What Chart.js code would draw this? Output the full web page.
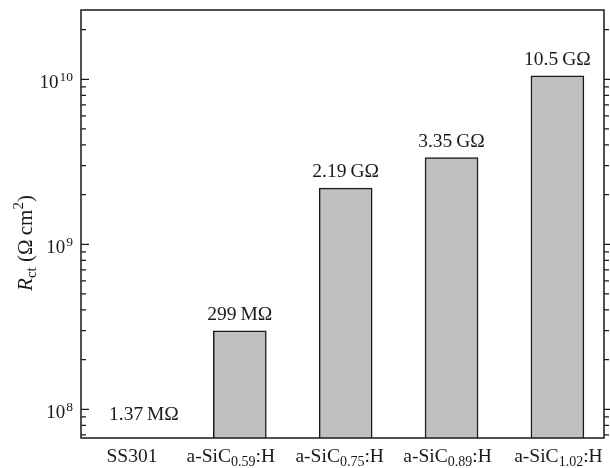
<!DOCTYPE html>
<html>
<head>
<meta charset="utf-8">
<script src="https://cdn.jsdelivr.net/npm/chart.js@4/dist/chart.umd.min.js"></script>
<style>
  html, body { margin: 0; padding: 0; background: #ffffff; }
  #wrap { width: 610px; height: 468px; }
</style>
</head>
<body>
<div id="wrap"><canvas id="c" width="610" height="468"></canvas></div>
<script>
// ---- data ----
const categories = ['SS301', 'a-SiC_0.59:H', 'a-SiC_0.75:H', 'a-SiC_0.89:H', 'a-SiC_1.02:H'];
const rctValues = [1.37e6, 2.99e8, 2.19e9, 3.35e9, 1.05e10];   // Ω cm²
const valueLabels = ['1.37\u2009M\u03A9', '299\u2009M\u03A9', '2.19\u2009G\u03A9', '3.35\u2009G\u03A9', '10.5\u2009G\u03A9'];
const yTickExponents = [8, 9, 10];
const yMin = 6.7e7;
const yMax = 2.63e10;

// ---- style ----
const FONT = '"Liberation Serif", "DejaVu Serif", serif';
const INK = '#1a1a1a';
const xLabelNudge = [-2, -9, -6, -4, 1];

function drawRich(ctx, parts, x, y, align) {
  let total = 0;
  for (const p of parts) {
    ctx.font = (p.italic ? 'italic ' : '') + p.size + 'px ' + FONT;
    p.w = ctx.measureText(p.t).width;
    total += p.w;
  }
  let cx = align === 'center' ? x - total / 2 : (align === 'right' ? x - total : x);
  ctx.textAlign = 'left';
  ctx.textBaseline = 'alphabetic';
  for (const p of parts) {
    ctx.font = (p.italic ? 'italic ' : '') + p.size + 'px ' + FONT;
    ctx.fillText(p.t, cx, y + (p.dy || 0));
    cx += p.w;
  }
}

const decor = {
  id: 'decor',
  afterDatasetsDraw(chart) {
    const ctx = chart.ctx;
    const a = chart.chartArea;
    const xs = chart.scales.x, ys = chart.scales.y;
    ctx.save();
    ctx.fillStyle = INK;
    ctx.strokeStyle = INK;

    // value labels above bars
    rctValues.forEach((v, i) => {
      let cx = xs.getPixelForValue(i + 1);
      let by;
      if (v < ys.min) { by = a.bottom - 18; cx += 10; }
      else by = ys.getPixelForValue(v) - 11;
      drawRich(ctx, [{ t: valueLabels[i], size: 19.5 }], cx, by, 'center');
    });

    // frame
    ctx.lineWidth = 1.5;
    ctx.strokeRect(a.left, a.top, a.right - a.left, a.bottom - a.top);

    // ticks: left axis inward, right axis outward
    ctx.lineWidth = 1.2;
    for (let d = 7; d <= 10; d++) {
      for (let m = 1; m <= 9; m++) {
        const v = m * Math.pow(10, d);
        if (v < ys.min || v > ys.max) continue;
        const y = ys.getPixelForValue(v);
        const len = m === 1 ? 8 : 5;
        ctx.beginPath();
        ctx.moveTo(a.left, y); ctx.lineTo(a.left + len, y);
        ctx.moveTo(a.right, y); ctx.lineTo(a.right + (m === 1 ? 7 : 5), y);
        ctx.stroke();
      }
    }

    // y tick labels 10^n
    yTickExponents.forEach(e => {
      const y = ys.getPixelForValue(Math.pow(10, e));
      ctx.font = '13.5px ' + FONT;
      const ew = ctx.measureText(String(e)).width;
      const right = a.left - 8;
      drawRich(ctx, [{ t: String(e), size: 13.5 }], right, y + 1.5, 'right');
      drawRich(ctx, [{ t: '10', size: 19 }], right - ew - 1, y + 9, 'right');
    });

    // x category labels with subscripts
    categories.forEach((c, i) => {
      const cx = xs.getPixelForValue(i + 1) + xLabelNudge[i];
      const m = c.match(/^(.*?)_([\d.]+)(.*)$/);
      let parts;
      if (m) parts = [{ t: m[1], size: 19.5 }, { t: m[2], size: 14, dy: 4 }, { t: m[3], size: 19.5 }];
      else parts = [{ t: c, size: 19.5 }];
      drawRich(ctx, parts, cx, 462, 'center');
    });

    // y axis title
    ctx.save();
    ctx.translate(32, 243);
    ctx.rotate(-Math.PI / 2);
    drawRich(ctx, [
      { t: 'R', size: 21, italic: true },
      { t: 'ct', size: 15, dy: 4 },
      { t: ' (\u03A9\u2009cm', size: 21 },
      { t: '2', size: 15, dy: -9 },
      { t: ')', size: 21 }
    ], 0, 0, 'center');
    ctx.restore();

    ctx.restore();
  }
};

new Chart(document.getElementById('c'), {
  type: 'bar',
  data: {
    datasets: [{
      data: rctValues.map((v, i) => ({ x: i + 1, y: v })),
      backgroundColor: '#c0c0c0',
      borderColor: INK,
      borderWidth: 1.5,
      barThickness: 53
    }]
  },
  options: {
    responsive: false,
    animation: false,
    layout: { padding: { left: 81, right: 6, top: 10, bottom: 30 } },
    plugins: { legend: { display: false }, tooltip: { enabled: false } },
    scales: {
      x: { type: 'linear', min: 0.5, max: 5.44, offset: false, display: false },
      y: { type: 'logarithmic', min: yMin, max: yMax, display: false }
    }
  },
  plugins: [decor]
});
</script>
</body>
</html>
